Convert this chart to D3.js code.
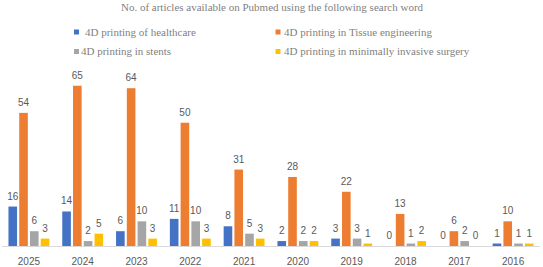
<!DOCTYPE html>
<html>
<head>
<meta charset="utf-8">
<script src="https://cdn.jsdelivr.net/npm/d3@7/dist/d3.min.js"></script>
<style>
  body { margin: 0; background: #fff; }
  svg { display: block; }
</style>
</head>
<body>
<div id="chart"></div>
<script>
'use strict';

var years = ["2025", "2024", "2023", "2022", "2021", "2020", "2019", "2018", "2017", "2016"];
var seriesNames = [
  "4D printing of healthcare",
  "4D printing in Tissue engineering",
  "4D printing in stents",
  "4D printing in minimally invasive surgery"
];
var healthcare = [16, 14, 6, 11, 8, 2, 3, 0, 0, 1];
var tissue = [54, 65, 64, 50, 31, 28, 22, 13, 6, 10];
var stents = [6, 2, 10, 10, 5, 2, 3, 1, 2, 1];
var surgery = [3, 5, 3, 3, 3, 2, 1, 2, 0, 1];
var colors = ["#4472C4", "#ED7D31", "#A5A5A5", "#FFC000"];

var W = 543, H = 267;
var svg = d3.select("#chart").append("svg").attr("width", W).attr("height", H);

var allSeries = [healthcare, tissue, stents, surgery];

var x0 = d3.scaleBand().domain(years).range([2, 540]).paddingInner(0.24).paddingOuter(0.12);
var x1 = d3.scaleBand().domain(d3.range(4)).range([0, x0.bandwidth()]).paddingInner(0.2);
var y = d3.scaleLinear().domain([0, 70]).range([246, 73.4]);

// title
svg.append("text")
  .attr("x", 272).attr("y", 10.5)
  .attr("text-anchor", "middle")
  .style("font-family", "'Liberation Serif', serif")
  .style("font-size", "11px")
  .style("fill", "#7f7f7f")
  .text("No. of articles available on Pubmed using the following search word");

// legend
var legendPos = [[74, 32], [275.5, 32], [74, 51.5], [275.5, 51.5]];
var textOffset = [11, 8.5, 7, 8.5];
var leg = svg.selectAll(".leg").data(seriesNames).enter().append("g")
  .attr("transform", function(d, i) { return "translate(" + legendPos[i][0] + "," + legendPos[i][1] + ")"; });
leg.append("rect").attr("x", 0).attr("y", -2.5).attr("width", 5).attr("height", 5)
  .style("fill", function(d, i) { return colors[i]; });
leg.append("text")
  .attr("x", function(d, i) { return textOffset[i]; })
  .attr("y", 3.8)
  .style("font-family", "'Liberation Serif', serif")
  .style("font-size", "11px")
  .style("fill", "#7f7f7f")
  .text(function(d) { return d; });

// axis line
svg.append("line")
  .attr("x1", 2).attr("x2", 540)
  .attr("y1", y(0) + 0.5).attr("y2", y(0) + 0.5)
  .style("stroke", "#D9D9D9").style("stroke-width", 1);

// bars
var groups = svg.selectAll(".grp").data(years).enter().append("g")
  .attr("transform", function(d) { return "translate(" + x0(d) + ",0)"; });

groups.each(function(yr, yi) {
  var g = d3.select(this);
  allSeries.forEach(function(s, si) {
    var v = s[yi];
    g.append("rect")
      .attr("x", x1(si))
      .attr("y", y(v))
      .attr("width", x1.bandwidth())
      .attr("height", y(0) - y(v))
      .style("fill", colors[si]);
    g.append("text")
      .attr("x", x1(si) + x1.bandwidth() / 2)
      .attr("y", y(v) - 7)
      .attr("text-anchor", "middle")
      .style("font-family", "'Liberation Sans', Arial, sans-serif")
      .style("font-size", "10px")
      .style("fill", "#595959")
      .text(v);
  });
});

// year labels
svg.selectAll(".yr").data(years).enter().append("text")
  .attr("x", function(d) { return x0(d) + x0.bandwidth() / 2; })
  .attr("y", 264.5)
  .attr("text-anchor", "middle")
  .style("font-family", "'Liberation Sans', Arial, sans-serif")
  .style("font-size", "10px")
  .style("fill", "#595959")
  .text(function(d) { return d; });
</script>
</body>
</html>
